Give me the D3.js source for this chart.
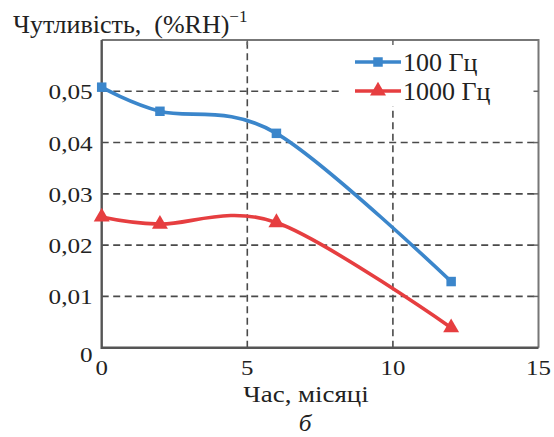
<!DOCTYPE html>
<html>
<head>
<meta charset="utf-8">
<script src="https://cdn.jsdelivr.net/npm/d3@7"></script>
<style>
  html, body { margin: 0; padding: 0; background: #fff; }
  svg { display: block; }
  text { font-family: "Liberation Serif", "Times New Roman", serif; fill: #222; white-space: pre; }
</style>
</head>
<body>
<svg id="chart" width="554" height="437"></svg>
<script>
// Sensitivity vs. ageing time
const months = [0, 2, 6, 12];
const sens100 = [0.0508, 0.0461, 0.0418, 0.0129];
const sens1000 = [0.0255, 0.0241, 0.0244, 0.0039];
const seriesNames = ["100 Гц", "1000 Гц"];
const xTicks = [0, 5, 10, 15];
const yTicks = [0, 0.01, 0.02, 0.03, 0.04, 0.05];
const yTickLabels = ["0", "0,01", "0,02", "0,03", "0,04", "0,05"];

const W = 554, H = 437;
const m = { left: 101.7, right: 15.5, top: 40, bottom: 89.3 };

const svg = d3.select("#chart");
const x = d3.scaleLinear().domain([0, 15]).range([m.left, W - m.right]);
const y = d3.scaleLinear().domain([0, 0.06]).range([H - m.bottom, m.top]);

const blue = "#3b86cb", red = "#e63e40", grid = "#4a4a4a";

function label(g, tx, ty, str, size, sx, anchor, style) {
  return g.append("text")
    .attr("transform", `translate(${tx},${ty}) scale(${sx},1)`)
    .attr("text-anchor", anchor || "start")
    .attr("font-size", size)
    .attr("font-style", style || "normal")
    .text(str);
}

// grid
const gGrid = svg.append("g");
gGrid.selectAll("line.h").data(yTicks.slice(1)).join("line")
  .attr("x1", x(0)).attr("x2", x(15))
  .attr("y1", d => y(d)).attr("y2", d => y(d))
  .attr("stroke", grid).attr("stroke-width", 1.6).attr("stroke-dasharray", "7,4.5");
gGrid.selectAll("line.v").data(xTicks.slice(1, -1)).join("line")
  .attr("y1", y(0)).attr("y2", y(0.06))
  .attr("x1", d => x(d)).attr("x2", d => x(d))
  .attr("stroke", grid).attr("stroke-width", 1.6).attr("stroke-dasharray", "7,4.5");

// legend background
svg.append("rect").attr("x", 343).attr("y", 42).attr("width", 193).attr("height", 64)
  .attr("fill", "#fff");

// frame
svg.append("path")
  .attr("d", `M${x(0)},${y(0.06)}H${x(15)}V${y(0)}`)
  .attr("fill", "none").attr("stroke", "#777").attr("stroke-width", 2);
svg.append("path")
  .attr("d", `M${x(0)},${y(0.06)}V${y(0)}H${x(15)}`)
  .attr("fill", "none").attr("stroke", "#555").attr("stroke-width", 2.4);

// small ticks on the top and right edges
xTicks.slice(1, -1).forEach(t => {
  svg.append("line").attr("x1", x(t)).attr("x2", x(t)).attr("y1", y(0.06)).attr("y2", y(0.06) + 5)
    .attr("stroke", "#666").attr("stroke-width", 1.5);
});
yTicks.slice(1).forEach(t => {
  svg.append("line").attr("x1", x(15) - 5).attr("x2", x(15)).attr("y1", y(t)).attr("y2", y(t))
    .attr("stroke", "#666").attr("stroke-width", 1.5);
});

// axes labels
const gAx = svg.append("g");
yTicks.forEach((t, i) => {
  label(gAx, x(0) - 9, y(t) + (t === 0 ? 14 : 8), yTickLabels[i], 21, 1.2, "end");
});
xTicks.forEach(t => {
  label(gAx, x(t), y(0) + 27, String(t), 22, 1.13, "middle");
});
label(gAx, 306, 402, "Час, місяці", 23, 1.17, "middle");
label(gAx, 305, 431, "б", 23, 1.1, "middle", "italic");

// title with superscript
const title = svg.append("text")
  .attr("transform", "translate(13,33)")
  .attr("font-size", 26);
title.append("tspan").text("Чутливість,  (%RH)");
title.append("tspan").attr("dy", -11).attr("font-size", 17).text("−1");

// series
const line = d3.line().x(d => x(d[0])).y(d => y(d[1])).curve(d3.curveCardinal.tension(0));
const series = [
  { name: seriesNames[0], color: blue, vals: sens100, shape: d3.symbolSquare, size: 90 },
  { name: seriesNames[1], color: red, vals: sens1000, shape: d3.symbolTriangle, size: 110 }
];

series.forEach(s => {
  const pts = months.map((mo, i) => [mo, s.vals[i]]);
  svg.append("path").attr("d", line(pts))
    .attr("fill", "none").attr("stroke", s.color).attr("stroke-width", 3.6)
    .attr("stroke-linejoin", "round");
  svg.append("g").selectAll("path").data(pts).join("path")
    .attr("transform", d => `translate(${x(d[0])},${y(d[1])})`)
    .attr("d", d3.symbol(s.shape, s.size))
    .attr("fill", s.color);
});

// legend
const legY = [62, 91];
series.forEach((s, i) => {
  const g = svg.append("g");
  g.append("line").attr("x1", 355).attr("x2", 401)
    .attr("y1", legY[i]).attr("y2", legY[i])
    .attr("stroke", s.color).attr("stroke-width", 3.6);
  g.append("path").attr("transform", `translate(378,${legY[i]})`)
    .attr("d", d3.symbol(s.shape, s.size)).attr("fill", s.color);
  label(g, 403, legY[i] + 8.5, s.name, 25, 1.04, "start");
});
</script>
</body>
</html>
